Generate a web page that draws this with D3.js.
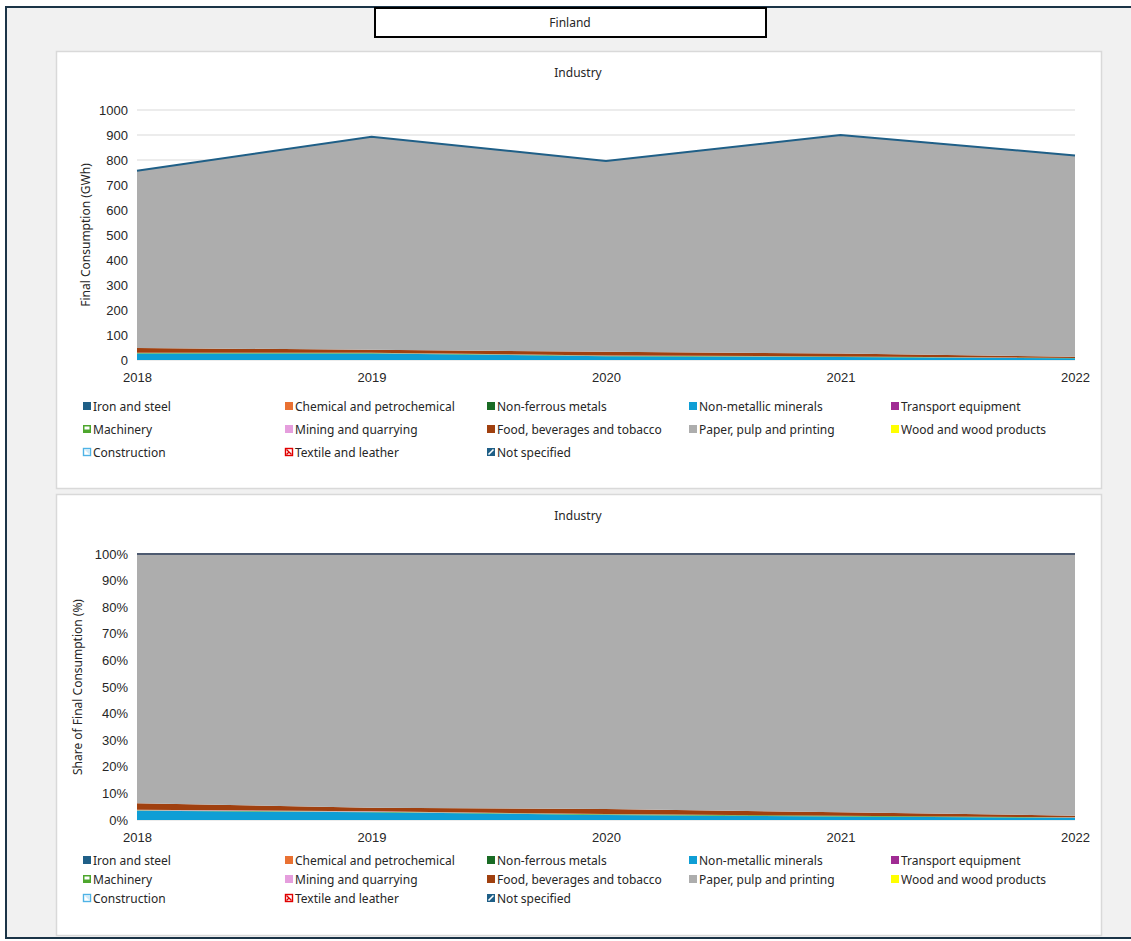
<!DOCTYPE html>
<html>
<head>
<meta charset="utf-8">
<script src="https://cdn.jsdelivr.net/npm/d3@7"></script>
<style>
  html, body { margin: 0; padding: 0; background: #ffffff; }
  svg { display: block; }
  text { font-family: "Liberation Sans", Arial, sans-serif; fill: #262626; }
  .leg text { font-family: "Noto Sans", "Open Sans", sans-serif; }
</style>
</head>
<body>
<script>
// Finland – industry final consumption by sub-sector (GWh)
const years = ["2018", "2019", "2020", "2021", "2022"];
const sectors = [
  "Iron and steel", "Chemical and petrochemical", "Non-ferrous metals",
  "Non-metallic minerals", "Transport equipment", "Machinery",
  "Mining and quarrying", "Food, beverages and tobacco", "Paper, pulp and printing",
  "Wood and wood products", "Construction", "Textile and leather", "Not specified"
];
const ironSteel     = [0, 0, 0, 0, 0];
const chemical      = [0, 0, 0, 0, 0];
const nonFerrous    = [0, 0, 0, 0, 0];
const nonMetallic   = [26, 26, 15, 12, 7];
const transportEq   = [0, 0, 0, 0, 0];
const machinery     = [2, 2, 2, 2, 1];
const mining        = [1, 1, 1, 0.5, 0.3];
const foodBev       = [19, 12, 15, 11.5, 5];
const paperPulp     = [709, 852, 763, 874, 805];
const woodProducts  = [0, 0, 0, 0, 0];
const construction  = [0, 0, 0, 0, 0];
const textile       = [0, 0, 0, 0, 0];
const notSpecified  = [0, 0, 0, 0, 0];
const gwhTicks = [0, 100, 200, 300, 400, 500, 600, 700, 800, 900, 1000];
const pctTicks = [0, 10, 20, 30, 40, 50, 60, 70, 80, 90, 100];

const seriesValues = [ironSteel, chemical, nonFerrous, nonMetallic, transportEq, machinery,
  mining, foodBev, paperPulp, woodProducts, construction, textile, notSpecified];
const colors = ["#1f5f87", "#e97132", "#196b24", "#0f9ed5", "#a02b93", "#4ea72e",
  "#e59edd", "#a0400f", "#adadad", "#ffff00", "#4fb3e6", "#e00000", "#1f5f87"];

const rows = years.map((y, i) => {
  const r = { year: y };
  sectors.forEach((s, k) => r[s] = seriesValues[k][i]);
  return r;
});
const totals = years.map((y, i) => d3.sum(seriesValues, v => v[i]));
const pctRows = rows.map((r, i) => {
  const o = { year: r.year };
  sectors.forEach(s => o[s] = r[s] / totals[i] * 100);
  return o;
});

const W = 1131, H = 941;
const svg = d3.select("body").append("svg").attr("width", W).attr("height", H);

// page background and frame
svg.append("rect").attr("x", 0).attr("y", 0).attr("width", W).attr("height", H).attr("fill", "#ffffff");
svg.append("rect").attr("x", 6).attr("y", 7).attr("width", W + 10).attr("height", 931)
  .attr("fill", "#f1f1f1").attr("stroke", "#1b3447").attr("stroke-width", 2);

// title box
svg.append("rect").attr("x", 375).attr("y", 8).attr("width", 391).attr("height", 29)
  .attr("fill", "#ffffff").attr("stroke", "#000000").attr("stroke-width", 2);
svg.append("text").attr("x", 570).attr("y", 27).attr("text-anchor", "middle")
  .attr("font-size", 12).style("font-family", "'Noto Sans', sans-serif").text("Finland");

function panel(cfg) {
  const g = svg.append("g");
  g.append("rect").attr("x", 56.5).attr("y", cfg.top + 0.5).attr("width", 1045).attr("height", cfg.h)
    .attr("fill", "#ffffff").attr("stroke", "#d9d9d9").attr("stroke-width", 1.5);
  g.append("text").attr("x", 578).attr("y", cfg.top + 26).attr("text-anchor", "middle")
    .attr("font-size", 12).style("font-family", "'Noto Sans', sans-serif").text("Industry");

  const x = d3.scalePoint().domain(years).range([137, 1075]);
  const y = d3.scaleLinear().domain([0, cfg.max]).range([cfg.y0, cfg.y1]);

  // gridlines
  g.append("g").selectAll("line").data(cfg.ticks).join("line")
    .attr("x1", 137).attr("x2", 1075).attr("y1", d => y(d)).attr("y2", d => y(d))
    .attr("stroke", "#d9d9d9").attr("stroke-width", 1);

  const stack = d3.stack().keys(sectors)(cfg.data);
  const area = d3.area().x(d => x(d.data.year)).y0(d => y(d[0])).y1(d => y(d[1]));
  g.append("g").selectAll("path").data(stack).join("path")
    .attr("d", area).attr("fill", (d, i) => colors[i]);

  // outline of the top series
  const top = stack[stack.length - 1];
  g.append("path").datum(top)
    .attr("d", d3.line().x(d => x(d.data.year)).y(d => y(d[1])))
    .attr("fill", "none").attr("stroke", cfg.lineColor).attr("stroke-width", 2);

  // axes
  const ya = g.append("g").attr("transform", "translate(128,0)")
    .call(d3.axisLeft(y).tickValues(cfg.ticks).tickSize(0).tickPadding(0).tickFormat(cfg.fmt));
  ya.select(".domain").remove();
  ya.selectAll("text").attr("font-size", 13).style("font-family", "'Liberation Sans', Arial, sans-serif").attr("fill", "#262626");

  const xa = g.append("g").attr("transform", `translate(0,${cfg.y0})`)
    .call(d3.axisBottom(x).tickSize(0).tickPadding(13));
  xa.select(".domain").remove();
  xa.selectAll("text").attr("font-size", 13).style("font-family", "'Liberation Sans', Arial, sans-serif").attr("fill", "#262626");

  g.append("text").attr("transform", `translate(${cfg.titleX},${(cfg.y0 + cfg.y1) / 2}) rotate(-90)`)
    .attr("text-anchor", "middle").attr("font-size", 12)
    .style("font-family", "'Noto Sans', sans-serif").text(cfg.yTitle);

  // legend
  const leg = g.append("g").attr("class", "leg");
  sectors.forEach((s, i) => {
    const col = i % 5, row = Math.floor(i / 5);
    const lx = 83 + col * 202, ly = cfg.legY + row * cfg.legStep;
    const it = leg.append("g").attr("transform", `translate(${lx},${ly})`);
    drawSwatch(it, i);
    it.append("text").attr("x", 10).attr("y", 4.5).attr("font-size", 12).text(s);
  });
}

function drawSwatch(g, i) {
  const c = colors[i];
  const s = sectors[i];
  if (s === "Machinery") {
    g.append("rect").attr("x", 0).attr("y", -4).attr("width", 8).attr("height", 8).attr("fill", c);
    g.append("rect").attr("x", 1.5).attr("y", -2.5).attr("width", 5).attr("height", 3).attr("fill", "#ffffff");
  } else if (s === "Construction") {
    g.append("rect").attr("x", 0.5).attr("y", -3.5).attr("width", 7).attr("height", 7).attr("fill", "#ffffff").attr("stroke", c).attr("stroke-width", 1.4);
    g.append("path").attr("d", "M1,-3 L7,-3 L7,3 Z").attr("fill", "#cfeaf8");
  } else if (s === "Textile and leather") {
    g.append("rect").attr("x", 0.5).attr("y", -3.5).attr("width", 7).attr("height", 7).attr("fill", "#ffffff").attr("stroke", c).attr("stroke-width", 1.4);
    g.append("path").attr("d", "M1.5,-2.5 L6.5,2.5 M1.5,2.5 L4,0").attr("stroke", c).attr("stroke-width", 1.4);
  } else if (s === "Not specified") {
    g.append("rect").attr("x", 0).attr("y", -4).attr("width", 8).attr("height", 8).attr("fill", c);
    g.append("path").attr("d", "M1.5,2.5 L6.5,-2.5").attr("stroke", "#ffffff").attr("stroke-width", 1.6);
  } else {
    g.append("rect").attr("x", 0).attr("y", -4).attr("width", 8).attr("height", 8).attr("fill", c);
  }
}

panel({
  top: 51, h: 437, data: rows, max: 1000, ticks: gwhTicks, y0: 360, y1: 110,
  fmt: d3.format("d"), yTitle: "Final Consumption (GWh)", titleX: 90,
  legY: 406, legStep: 23, lineColor: "#1f5f87"
});
panel({
  top: 494, h: 441, data: pctRows, max: 100, ticks: pctTicks, y0: 820, y1: 554,
  fmt: d => d + "%", yTitle: "Share of Final Consumption (%)", titleX: 82,
  legY: 860, legStep: 19, lineColor: "#4d5a70"
});
</script>
</body>
</html>
